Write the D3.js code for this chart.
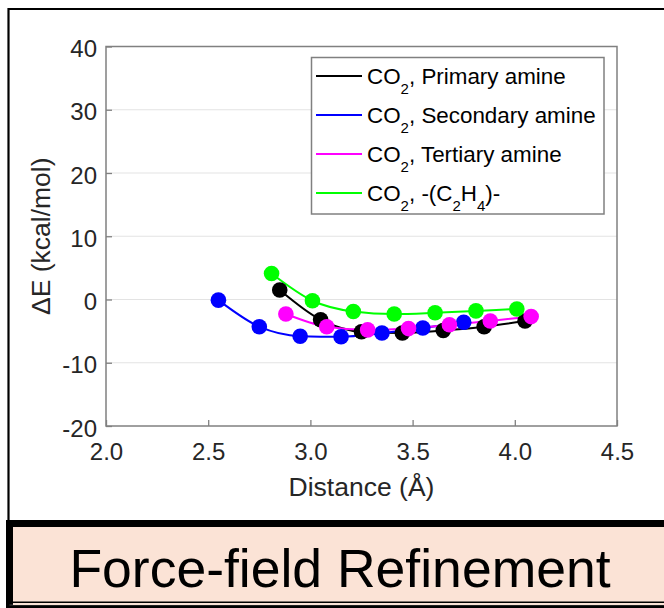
<!DOCTYPE html>
<html>
<head>
<meta charset="utf-8">
<script src="https://cdn.jsdelivr.net/npm/d3@7"></script>
<style>
  html, body { margin: 0; padding: 0; background: #fff; }
  svg { display: block; font-family: "Liberation Sans", Arial, sans-serif; }
</style>
</head>
<body>
<svg id="chart" width="664" height="608"></svg>
<script>
// ---- data ----
const xTicks = [2.0, 2.5, 3.0, 3.5, 4.0, 4.5];
const yTicks = [-20, -10, 0, 10, 20, 30, 40];
const gridTicks = [-10, 0, 10, 20, 30];

const seriesNames = ["Primary amine", "Secondary amine", "Tertiary amine", "-(C2H4)-"];
const seriesColors = ["#000000", "#0000ff", "#ff00ff", "#00ff00"];

const primaryX   = [2.85, 3.05, 3.25, 3.45, 3.65, 3.85, 4.05];
const primaryY   = [1.5, -3.2, -5.1, -5.3, -4.9, -4.3, -3.4];
const secondaryX = [2.55, 2.75, 2.95, 3.15, 3.35, 3.55, 3.75];
const secondaryY = [-0.1, -4.3, -5.8, -5.9, -5.3, -4.5, -3.6];
const tertiaryX  = [2.88, 3.08, 3.28, 3.48, 3.68, 3.88, 4.08];
const tertiaryY  = [-2.3, -4.3, -4.8, -4.6, -4.0, -3.4, -2.7];
const ethyleneX  = [2.81, 3.01, 3.21, 3.41, 3.61, 3.81, 4.01];
const ethyleneY  = [4.1, -0.2, -1.9, -2.3, -2.1, -1.8, -1.5];

const xLabel = "Distance (Å)";
const yLabel = "ΔE (kcal/mol)";
const titleText = "Force-field Refinement";

// ---- build ----
const series = [
  { xs: primaryX, ys: primaryY },
  { xs: secondaryX, ys: secondaryY },
  { xs: tertiaryX, ys: tertiaryY },
  { xs: ethyleneX, ys: ethyleneY }
].map((s, i) => ({
  name: seriesNames[i],
  color: seriesColors[i],
  pts: s.xs.map((x, j) => ({ x: x, y: s.ys[j] }))
}));

const svg = d3.select("#chart");
const plot = { left: 106, top: 46.5, right: 617, bottom: 426 };

const x = d3.scaleLinear().domain([2.0, 4.5]).range([plot.left, plot.right]);
const y = d3.scaleLinear().domain([-20, 40]).range([plot.bottom, plot.top]);

// outer frame (top and left lines)
svg.append("line").attr("x1", 8.5).attr("x2", 664).attr("y1", 9).attr("y2", 9)
  .attr("stroke", "#000").attr("stroke-width", 2.2);
svg.append("line").attr("x1", 8.5).attr("x2", 8.5).attr("y1", 8).attr("y2", 522)
  .attr("stroke", "#000").attr("stroke-width", 2.2);

// title box
svg.append("rect").attr("x", 9.5).attr("y", 523.5).attr("width", 664).attr("height", 81.5)
  .attr("fill", "#fbe3d6").attr("stroke", "#000").attr("stroke-width", 7);
svg.append("line").attr("x1", 9.5).attr("x2", 664).attr("y1", 605).attr("y2", 605)
  .attr("stroke", "#222").attr("stroke-width", 2);
svg.append("rect").attr("x", 13).attr("y", 603).attr("width", 651).attr("height", 2)
  .attr("fill", "#fbe3d6");
svg.append("text").attr("x", 340).attr("y", 587)
  .attr("text-anchor", "middle").attr("font-size", 53.5).attr("fill", "#000")
  .text(titleText);

// grid
svg.append("g").selectAll("line").data(gridTicks).join("line")
  .attr("x1", plot.left).attr("x2", plot.right)
  .attr("y1", d => y(d)).attr("y2", d => y(d))
  .attr("stroke", "#e3e3e3").attr("stroke-width", 1.2);

// axes
const axisColor = "#808080";
const xAxis = svg.append("g").attr("transform", `translate(0,${plot.bottom})`)
  .call(d3.axisBottom(x).tickValues(xTicks).tickSize(-6).tickPadding(12).tickFormat(d => d.toFixed(1)));
const yAxis = svg.append("g").attr("transform", `translate(${plot.left},0)`)
  .call(d3.axisLeft(y).tickValues(yTicks).tickSize(-6).tickPadding(9).tickFormat(d => String(d)));
[xAxis, yAxis].forEach(g => {
  g.select(".domain").remove();
  g.selectAll(".tick line").attr("stroke", axisColor).attr("stroke-width", 1.3);
  g.selectAll(".tick text").attr("fill", "#262626").attr("font-size", 24)
    .attr("font-family", "Liberation Sans, Arial, sans-serif");
});
xAxis.selectAll(".tick text").attr("dy", null).attr("y", 34);
yAxis.selectAll(".tick text").attr("dy", null).attr("y", 10).attr("x", -9);

svg.append("rect").attr("x", plot.left).attr("y", plot.top)
  .attr("width", plot.right - plot.left).attr("height", plot.bottom - plot.top)
  .attr("fill", "none").attr("stroke", axisColor).attr("stroke-width", 1.5);

// axis labels
svg.append("text").attr("x", (plot.left + plot.right) / 2).attr("y", 496)
  .attr("text-anchor", "middle").attr("font-size", 26.5).attr("fill", "#262626").text(xLabel);
svg.append("text").attr("transform", `translate(50,${(plot.top + plot.bottom) / 2}) rotate(-90)`)
  .attr("text-anchor", "middle").attr("font-size", 26.5).attr("fill", "#262626").text(yLabel);

// lines
const line = d3.line().x(d => x(d.x)).y(d => y(d.y)).curve(d3.curveMonotoneX);
const gLines = svg.append("g");
series.forEach(s => {
  gLines.append("path").datum(s.pts).attr("d", line)
    .attr("fill", "none").attr("stroke", s.color).attr("stroke-width", 2);
});
// markers
series.forEach(s => {
  svg.append("g").selectAll("circle").data(s.pts).join("circle")
    .attr("cx", d => x(d.x)).attr("cy", d => y(d.y)).attr("r", 7.8)
    .attr("fill", s.color);
});

// legend
const lg = svg.append("g");
lg.append("rect").attr("x", 311.5).attr("y", 57.5).attr("width", 292.5).attr("height", 156.5)
  .attr("fill", "#fff").attr("stroke", axisColor).attr("stroke-width", 1.5);
const rowY = [76, 115, 154, 193];
series.forEach((s, i) => {
  lg.append("line").attr("x1", 316).attr("x2", 362).attr("y1", rowY[i]).attr("y2", rowY[i])
    .attr("stroke", s.color).attr("stroke-width", 2);
  const t = lg.append("text").attr("x", 367).attr("y", rowY[i] + 8)
    .attr("font-size", 22.4).attr("fill", "#000");
  t.append("tspan").text("CO");
  t.append("tspan").attr("font-size", 15).attr("dy", 10).text("2");
  if (i < 3) {
    t.append("tspan").attr("dy", -10).text(", " + s.name);
  } else {
    t.append("tspan").attr("dy", -10).text(", -(C");
    t.append("tspan").attr("font-size", 15).attr("dy", 10).text("2");
    t.append("tspan").attr("dy", -10).text("H");
    t.append("tspan").attr("font-size", 15).attr("dy", 10).text("4");
    t.append("tspan").attr("dy", -10).text(")-");
  }
});
</script>
</body>
</html>
